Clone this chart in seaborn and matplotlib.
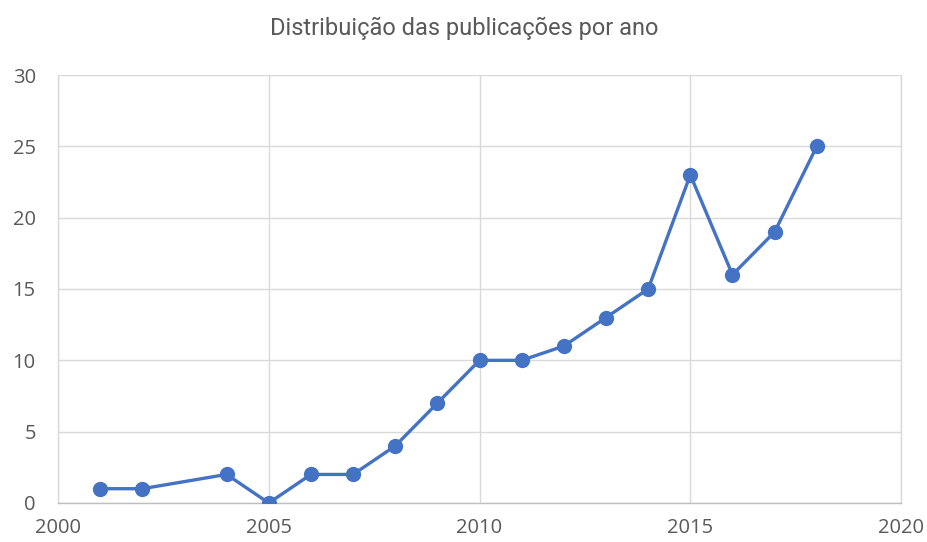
import matplotlib
matplotlib.use("Agg")
import matplotlib.pyplot as plt
import seaborn as sns
import pandas as pd

# publications per year
years = [2001, 2002, 2004, 2005, 2006, 2007, 2008, 2009, 2010,
         2011, 2012, 2013, 2014, 2015, 2016, 2017, 2018]
counts = [1, 1, 2, 0, 2, 2, 4, 7, 10, 10, 11, 13, 15, 23, 16, 19, 25]
x_ticks = [2000, 2005, 2010, 2015, 2020]
y_ticks = [0, 5, 10, 15, 20, 25, 30]
title = "Distribuição das publicações por ano"

df = pd.DataFrame({"ano": years, "publicacoes": counts})

sns.set_style("white")
plt.rcParams["font.family"] = ["Open Sans", "DejaVu Sans"]

fig = plt.figure(figsize=(9.28, 5.42), dpi=100)
ax = fig.add_axes([0.0625, 0.072, 0.9085, 0.7896])

sns.lineplot(data=df, x="ano", y="publicacoes", ax=ax, color="#4472C4",
             linewidth=2.4, marker="o", markersize=11, markeredgewidth=0,
             zorder=3)

ax.set_xlim(2000, 2020)
ax.set_ylim(0, 30)
ax.set_xticks(x_ticks)
ax.set_yticks(y_ticks)
ax.grid(True, color="#d9d9d9", linewidth=1)
ax.set_axisbelow(True)
ax.spines["top"].set_visible(False)
for side in ["left", "right"]:
    ax.spines[side].set_color("#d9d9d9")
    ax.spines[side].set_linewidth(1)
ax.spines["bottom"].set_color("#bfbfbf")
ax.spines["bottom"].set_linewidth(1)
ax.tick_params(axis="both", length=0, labelsize=14.5, labelcolor="#595959")
ax.tick_params(axis="x", pad=11)
ax.tick_params(axis="y", pad=16)
ax.set_xlabel("")
ax.set_ylabel("")

fig.text(0.5, 0.948, title, ha="center", va="center", fontsize=17,
         color="#595959", family=["Roboto", "DejaVu Sans"])

fig.savefig("out.png", dpi=100)
